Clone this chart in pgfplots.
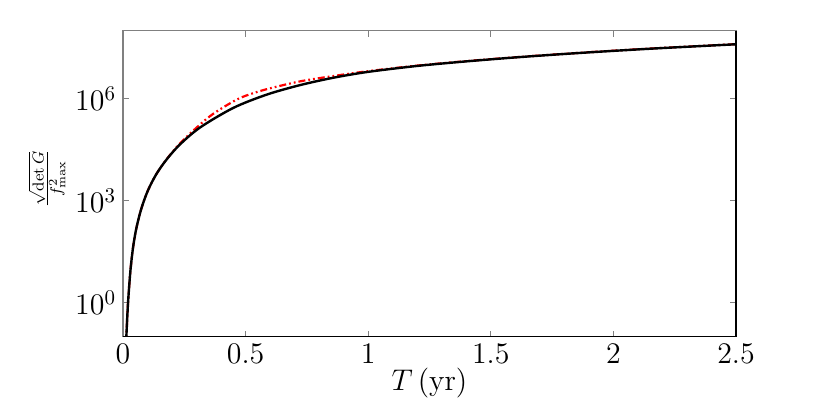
\RequirePackage{fix-cm}
\documentclass[border=0pt]{standalone}
\usepackage{pgfplots}
\pgfplotsset{compat=1.18}

% black (solid) curve
\pgfplotstableread{
x y
0.012 0.049
0.0137 0.102
0.0204 0.953
0.030 8.26
0.041 42.0
0.0543 152.8
0.0747 583
0.102 2028
0.136 6053
0.177 16032
0.231 44157
0.314 141906
0.45 537032
0.586 1.318e6
0.722 2.512e6
0.858 4.14e6
1.0 6.166e6
1.2 9.20e6
1.4 1.253e7
1.6 1.637e7
1.8 2.070e7
2.0 2.553e7
2.2 3.09e7
2.5 3.99e7
}\blackdata

% red (dash-dot) curve
\pgfplotstableread{
x y
0.012 0.049
0.0137 0.102
0.0204 0.953
0.030 8.26
0.041 42.0
0.0543 152.8
0.0747 583
0.102 2028
0.136 6053
0.177 16218
0.231 47315
0.314 173780
0.37 368129
0.45 831764
0.5 1.219e6
0.586 1.905e6
0.722 3.236e6
0.858 4.645e6
1.0 6.457e6
1.2 9.42e6
1.4 1.274e7
1.6 1.655e7
1.8 2.09e7
2.0 2.58e7
2.2 3.12e7
2.5 4.03e7
}\reddata

\begin{document}
\begin{tikzpicture}
\useasboundingbox (-61.5bp,-30.65bp) rectangle (353.5bp,168.35bp);
\begin{axis}[
  scale only axis,
  width=306.5bp, height=153bp,
  at={(0,0)}, anchor=south west,
  xmin=0, xmax=2.5,
  ymode=log, ymin=0.1, ymax=1e8,
  xtick={0,0.5,1,1.5,2,2.5},
  ytick={1,1e3,1e6},
  yminorticks=false,
  tick align=inside,
  major tick length=3bp,
  tick style={gray, line width=0.5bp},
  axis line style={gray, line width=0.6bp},
  tick label style={font=\fontsize{15}{18}\selectfont},
  xlabel={$T\,(\mathrm{yr})$},
  xlabel style={font=\fontsize{15}{18}\selectfont, at={(rel axis cs:0.5,0)}, anchor=center, yshift=-23.2bp},
  ylabel={$\frac{\sqrt{\det G}}{f^2_{\max}}$},
  ylabel style={font=\fontsize{12}{14}\selectfont, at={(rel axis cs:-0.124,0.517)}, anchor=center},
  after end axis/.code={
    \draw[black, line width=0.6bp] (rel axis cs:0,0) -- (rel axis cs:1,0) -- (rel axis cs:1,1);
  },
]
\addplot[red, line width=1.1bp, smooth, tension=0.5,
  dash pattern=on 3.5bp off 1.5bp on 0.9bp off 1.5bp on 0.9bp off 1.5bp] table[x=x,y=y] {\reddata};
\addplot[black, line width=1.2bp, smooth, tension=0.5] table[x=x,y=y] {\blackdata};
\end{axis}
\end{tikzpicture}
\end{document}
